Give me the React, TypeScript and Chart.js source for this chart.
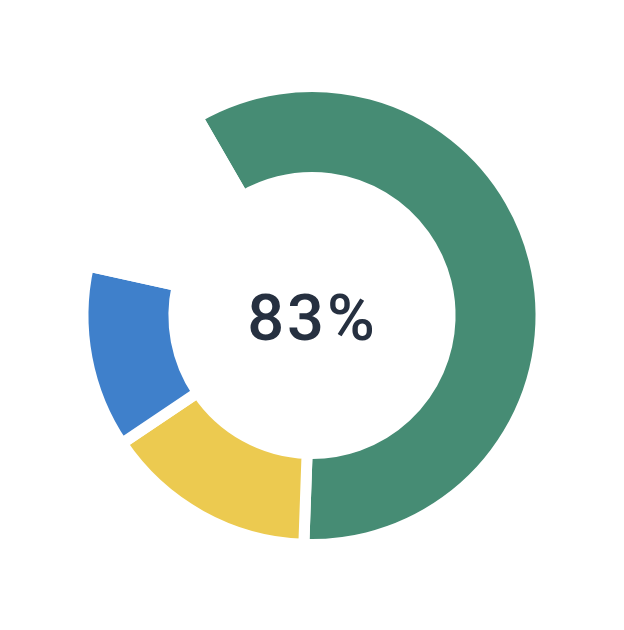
import { useEffect, useRef } from 'react';
import { Chart, registerables } from 'chart.js';

Chart.register(...registerables);

// segments, clockwise from the top-left edge of the green arc
const segmentLabels = ['Segment A', 'Segment B', 'Segment C', 'Remaining'];
const segmentValues = [58.9, 15.0, 12.9, 13.2];
const segmentColors = ['#468c74', '#ecca50', '#3f80cb', 'rgba(0,0,0,0)'];
const centerLabel = '83%';

const centerTextPlugin = {
  id: 'centerText',
  afterDraw(chart: Chart) {
    const { ctx, chartArea } = chart;
    const x = (chartArea.left + chartArea.right) / 2;
    ctx.save();
    ctx.font = '500 65px Roboto, sans-serif';
    (ctx as any).letterSpacing = '3px';
    ctx.fillStyle = '#263040';
    ctx.textAlign = 'center';
    ctx.textBaseline = 'alphabetic';
    ctx.fillText(centerLabel, x + 0.5, 340);
    ctx.restore();
  },
};

export default function App() {
  const chartRef = useRef<HTMLCanvasElement>(null);

  useEffect(() => {
    if (!chartRef.current) return;
    const ctx = chartRef.current.getContext('2d');
    if (!ctx) return;

    const chart = new Chart(ctx, {
      type: 'doughnut',
      data: {
        labels: segmentLabels,
        datasets: [
          {
            data: segmentValues,
            backgroundColor: segmentColors,
            borderColor: '#ffffff',
            borderWidth: 11,
            borderJoinStyle: 'miter',
            hoverOffset: 0,
          },
        ],
      },
      options: {
        animation: false,
        responsive: false,
        rotation: -30,
        radius: 229,
        cutout: '60.3%',
        layout: { padding: { top: 1 } },
        plugins: {
          legend: { display: false },
          tooltip: { enabled: false },
        },
      },
      plugins: [centerTextPlugin],
    });

    return () => chart.destroy();
  }, []);

  return (
    <div style={{ position: 'absolute', left: 0, top: 0, width: 624, height: 630, background: '#fff' }}>
      <canvas ref={chartRef} width={624} height={630} style={{ width: 624, height: 630 }} />
    </div>
  );
}
